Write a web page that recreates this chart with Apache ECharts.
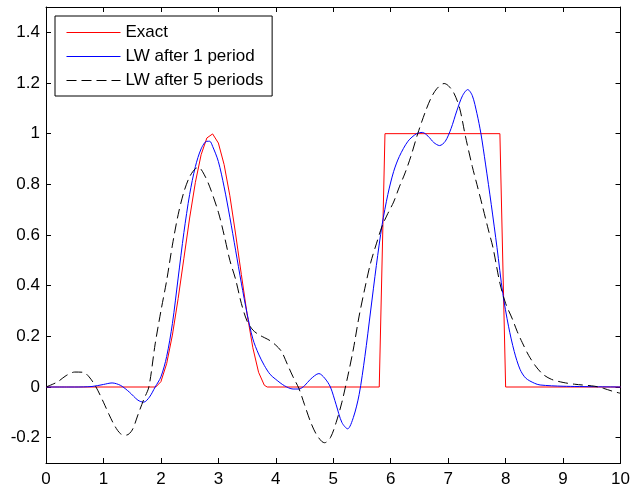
<!DOCTYPE html>
<html>
<head>
<meta charset="utf-8">
<script src="https://cdn.jsdelivr.net/npm/echarts@6/dist/echarts.min.js"></script>
<style>
html,body{margin:0;padding:0;background:#fff;}
#chart{width:633px;height:488px;}
</style>
</head>
<body>
<div id="chart"></div>
<script>
var seriesNames = ['Exact', 'LW after 1 period', 'LW after 5 periods'];
var xTicks = [0,1,2,3,4,5,6,7,8,9,10];
var yTicks = [-0.2,0,0.2,0.4,0.6,0.8,1,1.2,1.4];

var exactX = [0,1.91,2.0,2.1,2.2,2.3,2.4,2.5,2.6,2.7,2.8,2.9,3.0,3.1,3.2,3.3,3.4,3.5,3.6,3.7,3.8,3.85,5.8,5.9,7.9,8.0,10];
var exactY = [0,0,0.021,0.092,0.205,0.349,0.508,0.667,0.808,0.917,0.983,0.999,0.963,0.878,0.755,0.604,0.444,0.288,0.155,0.058,0.007,0,0,1,1,0,0];

var lw1X = [0,0.5,0.8,1.0,1.15,1.3,1.45,1.6,1.7,1.8,1.9,2.0,2.1,2.2,2.3,2.4,2.5,2.6,2.7,2.8,2.85,2.9,3.0,3.1,3.2,3.3,3.4,3.5,3.6,3.7,3.8,3.9,4.0,4.15,4.3,4.4,4.5,4.6,4.75,4.85,4.95,5.05,5.15,5.25,5.35,5.45,5.55,5.65,5.75,5.85,5.95,6.05,6.15,6.3,6.45,6.55,6.65,6.75,6.85,6.95,7.05,7.15,7.25,7.34,7.42,7.5,7.57,7.65,7.75,7.85,7.95,8.05,8.15,8.25,8.35,8.5,8.6,9.0,10];
var lw1Y = [0,0,0.002,0.01,0.016,0.006,-0.02,-0.052,-0.06,-0.04,0.0,0.04,0.12,0.25,0.43,0.61,0.76,0.87,0.94,0.97,0.97,0.95,0.89,0.79,0.67,0.54,0.41,0.29,0.19,0.13,0.085,0.05,0.03,0.005,-0.008,-0.008,0.005,0.03,0.053,0.035,0,-0.07,-0.14,-0.165,-0.12,-0.03,0.12,0.3,0.48,0.64,0.76,0.85,0.91,0.97,1.0,1.005,0.99,0.965,0.953,0.97,1.02,1.09,1.15,1.174,1.15,1.08,1.0,0.88,0.72,0.55,0.37,0.24,0.14,0.07,0.035,0.015,0.008,0.003,0];

var lw5X = [0,0.2,0.35,0.5,0.65,0.75,0.87,1.0,1.1,1.2,1.3,1.4,1.5,1.6,1.7,1.79,1.9,2.0,2.1,2.2,2.3,2.4,2.5,2.6,2.66,2.75,2.85,3.0,3.1,3.2,3.3,3.4,3.5,3.6,3.7,3.8,3.9,4.0,4.1,4.2,4.3,4.4,4.5,4.6,4.7,4.8,4.85,4.95,5.05,5.15,5.25,5.35,5.45,5.55,5.65,5.75,5.85,5.95,6.05,6.15,6.25,6.35,6.47,6.6,6.7,6.8,6.93,7.0,7.1,7.2,7.3,7.42,7.5,7.59,7.7,7.78,7.9,8.0,8.12,8.2,8.29,8.4,8.52,8.65,8.8,9.0,9.2,9.55,9.7,9.85,10];
var lw5Y = [0,0.02,0.045,0.059,0.058,0.04,0,-0.06,-0.11,-0.155,-0.185,-0.19,-0.17,-0.11,-0.05,0,0.17,0.3,0.42,0.56,0.68,0.77,0.83,0.862,0.866,0.84,0.79,0.69,0.6,0.5,0.425,0.33,0.26,0.225,0.207,0.195,0.183,0.165,0.14,0.09,0.04,-0.005,-0.07,-0.135,-0.185,-0.215,-0.22,-0.2,-0.14,-0.06,0.04,0.15,0.28,0.39,0.49,0.565,0.635,0.685,0.73,0.79,0.845,0.91,1.0,1.085,1.14,1.177,1.198,1.19,1.16,1.1,0.99,0.87,0.8,0.72,0.62,0.55,0.41,0.33,0.267,0.22,0.175,0.125,0.083,0.05,0.03,0.018,0.011,0.003,-0.005,-0.016,-0.025];

function pairs(xs, ys){ return xs.map(function(x,i){ return [x, ys[i]]; }); }

var FONT = '"Liberation Sans", Arial, Helvetica, sans-serif';
var chart = echarts.init(document.getElementById('chart'), null, {renderer:'canvas'});
var tickStyle = {show:true, inside:true, length:5, lineStyle:{color:'#000', width:1}};
var lineAx = {show:true, onZero:false, lineStyle:{color:'#000', width:1}};

chart.setOption({
  animation:false,
  backgroundColor:'#fff',
  grid:{left:46, right:7, top:7, bottom:25, containLabel:false},
  legend:{
    orient:'vertical', left:55, top:16,
    padding:[8,9,7,11],
    itemWidth:54, itemHeight:14, itemGap:7,
    backgroundColor:'#fff', borderColor:'#000', borderWidth:1, borderRadius:0,
    itemStyle:{opacity:0, borderWidth:0},
    lineStyle:{width:1},
    textStyle:{fontSize:17, fontFamily:FONT, color:'#000'},
    data:seriesNames
  },
  xAxis:[
    {type:'value', position:'bottom', min:0, max:10, interval:1,
     axisLine:lineAx, axisTick:tickStyle, splitLine:{show:false},
     axisLabel:{show:true, margin:8, fontSize:17, fontFamily:FONT, color:'#000',
       customValues:xTicks, formatter:function(v){return String(v);}}},
    {type:'value', position:'top', min:0, max:10, interval:1,
     axisLine:lineAx, axisTick:tickStyle, splitLine:{show:false}, axisLabel:{show:false}}
  ],
  yAxis:[
    {type:'value', position:'left', min:-0.3, max:1.5,
     axisLine:lineAx, splitLine:{show:false},
     axisTick:{show:true, inside:true, length:5, lineStyle:{color:'#000', width:1}, customValues:yTicks},
     axisLabel:{show:true, margin:6, fontSize:17, fontFamily:FONT, color:'#000',
       customValues:yTicks, formatter:function(v){return String(v);}}},
    {type:'value', position:'right', min:-0.3, max:1.5,
     axisLine:lineAx, splitLine:{show:false},
     axisTick:{show:true, inside:true, length:5, lineStyle:{color:'#000', width:1}, customValues:yTicks},
     axisLabel:{show:false}}
  ],
  series:[
    {name:seriesNames[0], type:'line', xAxisIndex:0, yAxisIndex:0, symbol:'none', smooth:false,
     lineStyle:{color:'#ff0000', width:1}, itemStyle:{color:'#ff0000'}, data:pairs(exactX, exactY)},
    {name:seriesNames[1], type:'line', xAxisIndex:0, yAxisIndex:0, symbol:'none', smooth:0.3,
     lineStyle:{color:'#0000ff', width:1}, itemStyle:{color:'#0000ff'}, data:pairs(lw1X, lw1Y)},
    {name:seriesNames[2], type:'line', xAxisIndex:0, yAxisIndex:0, symbol:'none', smooth:0.3,
     lineStyle:{color:'#000000', width:1, type:[10,5]}, itemStyle:{color:'#000000'}, data:pairs(lw5X, lw5Y)}
  ]
});
</script>
</body>
</html>
